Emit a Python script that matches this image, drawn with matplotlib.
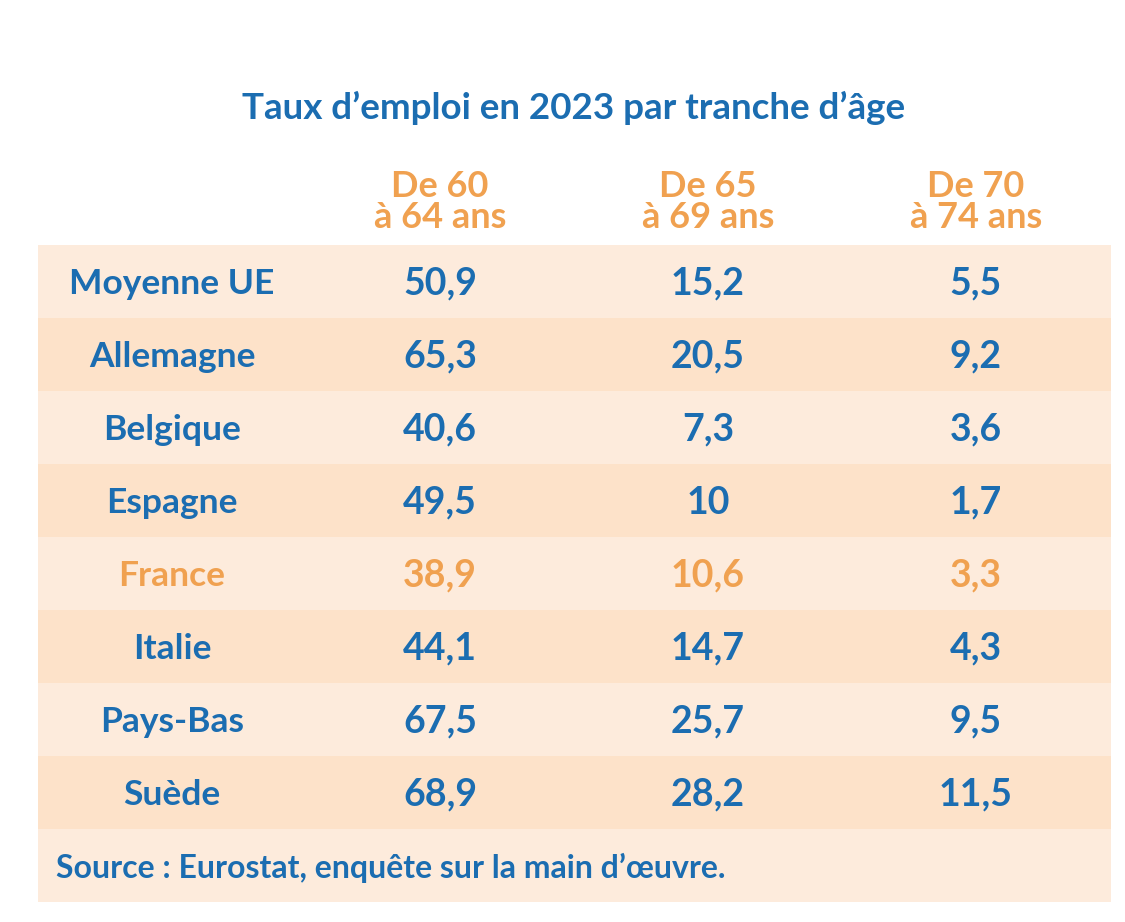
import matplotlib
matplotlib.use("Agg")
import matplotlib.pyplot as plt

# data
title = "Taux d\u2019emploi en 2023 par tranche d\u2019\u00e2ge"
age_groups = ["De 60\n\u00e0 64 ans", "De 65\n\u00e0 69 ans", "De 70\n\u00e0 74 ans"]
countries = ["Moyenne UE", "Allemagne", "Belgique", "Espagne", "France", "Italie", "Pays-Bas", "Su\u00e8de"]
rate_60_64 = ["50,9", "65,3", "40,6", "49,5", "38,9", "44,1", "67,5", "68,9"]
rate_65_69 = ["15,2", "20,5", "7,3", "10", "10,6", "14,7", "25,7", "28,2"]
rate_70_74 = ["5,5", "9,2", "3,6", "1,7", "3,3", "4,3", "9,5", "11,5"]
source = "Source : Eurostat, enqu\u00eate sur la main d\u2019\u0153uvre."
highlight = "France"

blue = "#1b6db1"
orange = "#f0a150"
light = "#fdebdc"
dark = "#fde2c9"

plt.rcParams["font.family"] = ["Lato", "DejaVu Sans"]

fig = plt.figure(figsize=(11.25, 9.22), dpi=100)
ax = fig.add_axes([0, 0, 1, 1])
ax.set_xlim(0, 1125)
ax.set_ylim(922, 0)
ax.axis("off")

x0, x1 = 38, 1111
top = 245
rh = 73.0
col_x = [172, 440, 708, 976]

# row backgrounds (8 data rows + source row)
n = len(countries)
ys = [top + rh * i + rh / 2 for i in range(n + 1)]
cols = [light if i % 2 == 0 else dark for i in range(n + 1)]
ax.barh(ys, x1 - x0, left=x0, height=rh, color=cols, linewidth=0)

ax.text(574, 108, title, color=blue, fontsize=26.5, fontweight="bold",
        ha="center", va="center")

for j, lab in enumerate(age_groups):
    ax.text(col_x[j + 1], 202, lab, color=orange, fontsize=26, fontweight="bold",
            ha="center", va="center", linespacing=0.95)

for i, c in enumerate(countries):
    colr = orange if c == highlight else blue
    y = ys[i] + 2
    row = [c, rate_60_64[i], rate_65_69[i], rate_70_74[i]]
    for j, v in enumerate(row):
        ax.text(col_x[j], y, v, color=colr, fontsize=25.5 if j == 0 else 27,
                fontweight="bold", ha="center", va="center")

ax.text(56, ys[n] + 2, source, color=blue, fontsize=23, fontweight="bold",
        ha="left", va="center")

fig.savefig("out.png", dpi=100, facecolor="white")
